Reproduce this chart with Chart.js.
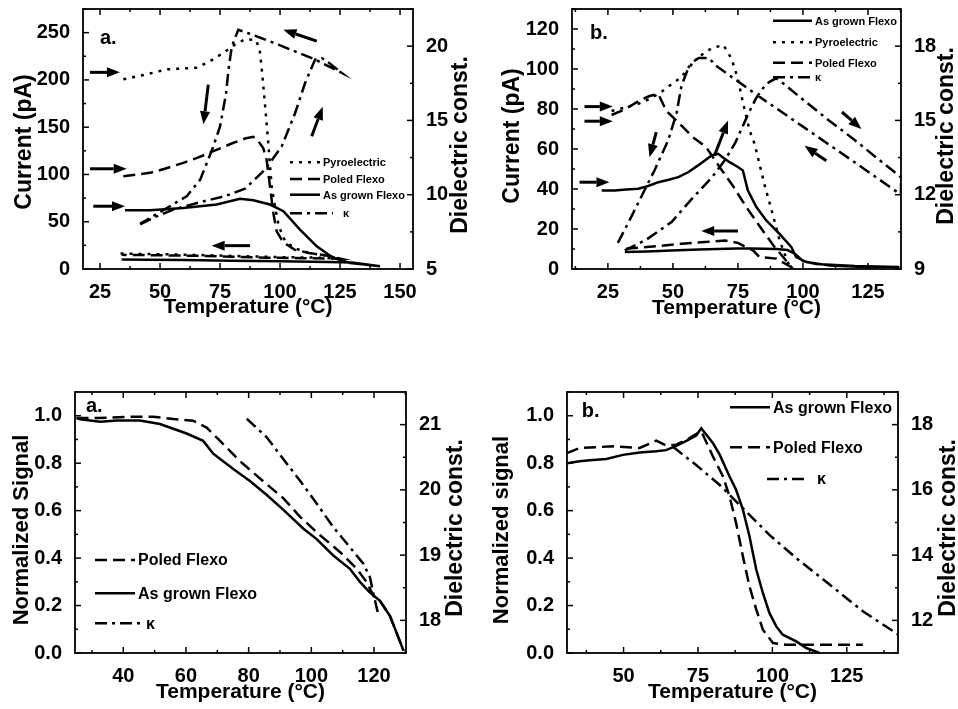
<!DOCTYPE html>
<html lang="en">
<head>
<meta charset="UTF-8">
<title>Flexo / pyro currents and dielectric constant</title>
<script src="https://cdn.jsdelivr.net/npm/chart.js"></script>
<style>
  body { margin: 0; background: #fff; }
  #wrap { position: relative; width: 958px; height: 709px; }
  canvas { position: absolute; }
</style>
</head>
<body>
<div id="wrap">
  <canvas id="pa" width="480" height="330" style="left:0;top:0"></canvas>
  <canvas id="pb" width="478" height="330" style="left:480px;top:0"></canvas>
  <canvas id="pc" width="480" height="379" style="left:0;top:330px"></canvas>
  <canvas id="pd" width="478" height="379" style="left:480px;top:330px"></canvas>
</div>
<script>
// ---- panel a (top left): currents in pA, kappa on right axis ----
const aXTicks = [25, 50, 75, 100, 125, 150];
const aCurTicks = [0, 50, 100, 150, 200, 250];
const aKapTicks = [5, 10, 15, 20];

const aPyroT = [34.7, 44.4, 52.8, 65.3, 70.8, 76, 81, 85.4, 90, 91.5, 92.4, 93.8, 95.1, 96.5, 97.9, 99.5, 102, 106, 112, 120, 125, 115, 100, 85, 70, 55, 40, 33];
const aPyroI = [200.6, 205.9, 211.2, 212.9, 219.7, 228, 237, 243, 242, 232, 211, 172, 133, 87.5, 66, 45, 30, 22, 17, 14, 11, 12, 12.5, 13.5, 14.5, 15.5, 16, 16.5];

const aPoledT = [34.7, 45.8, 52, 59.7, 66, 72.2, 80.6, 85.4, 88.9, 91, 93, 94.4, 95.8, 97.2, 98.6, 100.7, 102.8, 106, 112, 120, 125, 110, 95, 80, 65, 50, 34];
const aPoledI = [98.2, 101.7, 106, 112.3, 118, 124.6, 133.5, 138, 139.8, 135, 128, 115.8, 87.6, 59.3, 39.8, 31, 25.8, 20.5, 17, 14, 11, 11.5, 12, 13, 14, 14.5, 15];

const aGrownT = [35.4, 45.8, 59.7, 73.6, 83.3, 88.9, 95.8, 101.4, 108.3, 115.3, 122.2, 129.2, 136.1, 141.7, 130, 120, 100, 80, 60, 45, 34];
const aGrownI = [62.1, 62.1, 64.6, 68.2, 74.2, 72.7, 68.2, 61.1, 41.7, 24, 11.7, 6.4, 4.6, 2.8, 7, 7.5, 8.2, 8.8, 9.4, 9.8, 10];

const aKapT = [41.7, 48, 55.6, 66.7, 77, 85.4, 93.8, 100.7, 106.3, 110.4, 114.6, 117.4, 121, 125.7, 114.6, 99.3, 86.8, 82.6, 79.9, 78.5, 77.5, 75, 72.2, 69.4, 66.7, 61.1, 52.8, 44.4, 41.7];
const aKapV = [8.0, 8.5, 9.0, 9.5, 9.9, 10.4, 11.7, 13.25, 15.5, 17.5, 19.1, 19.2, 18.8, 18.2, 19.1, 20.1, 20.87, 21.1, 19.97, 18.4, 16.8, 14.6, 13.25, 12.1, 11.0, 9.9, 9.1, 8.3, 8.05];

// arrows: [T0, I0, T1, I1]
const aArrows = [
  [20.8, 208, 33.3, 208],
  [20.8, 106, 36.1, 106],
  [22.2, 66.4, 35.4, 66.4],
  [70.1, 195, 68.1, 153],
  [113.2, 140.5, 117.8, 171.6],
  [115.3, 241, 101.4, 253],
  [87.5, 24.7, 71.5, 24.7]
];

// ---- panel b (top right) ----
const bXTicks = [25, 50, 75, 100, 125];
const bCurTicks = [0, 20, 40, 60, 80, 100, 120];
const bKapTicks = [9, 12, 15, 18];

const bGrownT = [22.6, 27.7, 32, 36.7, 40.5, 44.4, 48, 52.1, 56, 59.7, 62, 64.9, 67.4, 69.5, 71.8, 75, 76.9, 78.8, 82.1, 85.9, 91, 95.5, 97.4, 101.3, 110.3, 123.1, 137, 120, 105, 100, 97, 94, 90, 80, 74.5, 60, 49.5, 40, 31.5];
const bGrownI = [39.3, 39.3, 39.8, 40.1, 41.5, 43.4, 44.5, 45.9, 48.5, 51.8, 54, 56.8, 57.6, 55.5, 53.4, 51, 49.3, 39.3, 31, 24.3, 17.6, 11, 6, 3.5, 1.8, 1, 1, 1.5, 2.5, 4, 7.5, 9.5, 10, 10.2, 10.2, 9.7, 9.3, 8.8, 8.5];

const bPyroT = [26.4, 31, 36.7, 41, 45, 48.8, 53.3, 56.5, 59.1, 62, 64.9, 69.4, 72.6, 75, 76.9, 79.5, 81.4, 85.3, 88.5, 91, 94.9];
const bPyroI = [79, 80.5, 82.6, 85, 88, 91.7, 95.9, 101.7, 105, 108, 110.4, 112, 105, 95, 83.4, 69.2, 62.6, 41.8, 26.8, 14.3, 1];

const bPoledT = [26.4, 31, 37.2, 41, 44.4, 47.4, 52.6, 57.7, 62.8, 68, 73.1, 78.2, 83.3, 88.5, 93, 95.5, 89.7, 83.3, 80.8, 75, 70, 62.3, 53.3, 45, 32.8, 30];
const bPoledI = [77, 79.5, 84.2, 86.5, 87.5, 79.2, 72.6, 65.9, 60.9, 50.9, 41.5, 31, 21.5, 12, 5, 1, 5.2, 6, 9.3, 13, 14.3, 13.5, 12.6, 11.5, 10.2, 9.5];

const bKapT = [31.5, 40, 49.5, 57, 65, 70, 74, 77, 79.5, 82, 84.6, 87, 89.7, 93, 98.7, 110, 120, 130, 137.7, 137.7, 120, 100, 82, 72, 66, 64, 60, 58, 55.5, 53.3, 51.4, 48.2, 43, 38, 33, 28.3];
const bKapV = [9.75, 10.2, 10.9, 11.8, 12.7, 13.4, 14.1, 14.8, 15.38, 15.9, 16.3, 16.55, 16.7, 16.45, 15.95, 15.0, 14.2, 13.35, 12.7, 12.0, 13.3, 14.75, 16.05, 16.8, 17.25, 17.52, 17.52, 17.4, 17.0, 16.4, 15.3, 14.2, 13.0, 11.95, 10.9, 9.95];

const bArrows = [
  [16, 81.2, 26.9, 81.2],
  [16, 73.9, 26.9, 73.9],
  [14.1, 43.4, 25.6, 43.4],
  [43.6, 68.4, 41, 55.9],
  [66, 56.8, 71.2, 74.2],
  [115, 78.5, 122.5, 70],
  [109, 54.1, 100.6, 61.6],
  [75, 19, 60.9, 19]
];

// ---- panel c (bottom left): normalized signal ----
const cXTicks = [40, 60, 80, 100, 120];
const cSigTicks = [0, 0.2, 0.4, 0.6, 0.8, 1.0];
const cKapTicks = [18, 19, 20, 21];

const cGrownT = [25.1, 26.2, 32.6, 38, 45.3, 51.7, 60.2, 65.5, 68.7, 75.1, 80.4, 85.7, 91.1, 97.4, 101.7, 107, 112.3, 115.5, 118.7, 121.9, 125.1, 127.2, 129.4];
const cGrownS = [0.99, 0.985, 0.975, 0.98, 0.98, 0.965, 0.925, 0.894, 0.84, 0.775, 0.725, 0.667, 0.603, 0.525, 0.48, 0.411, 0.355, 0.3, 0.255, 0.22, 0.156, 0.085, 0.01];

const cPoledT = [25.1, 32, 43.2, 49.6, 56, 62.3, 66.6, 70.9, 77.2, 84.7, 91.1, 96.4, 102.8, 109.1, 114.5, 117.7, 119.8, 121.9, 125.1, 127.2, 129.4];
const cPoledS = [0.99, 0.99, 0.996, 0.996, 0.986, 0.979, 0.95, 0.894, 0.809, 0.723, 0.652, 0.574, 0.496, 0.426, 0.355, 0.298, 0.241, 0.22, 0.156, 0.085, 0.01];

const cKapT = [79.4, 85.7, 91.1, 96.4, 101.7, 107, 112.3, 116.6, 118.7, 119.8, 121.4];
const cKapV = [21.09, 20.81, 20.47, 20.14, 19.79, 19.43, 19.12, 18.87, 18.66, 18.41, 18.08];

// ---- panel d (bottom right) ----
const dXTicks = [50, 75, 100, 125];
const dSigTicks = [0, 0.2, 0.4, 0.6, 0.8, 1.0];
const dKapTicks = [12, 14, 16, 18];

const dGrownT = [31, 35.2, 38.6, 44.2, 49.8, 55.4, 61, 64.3, 67.7, 71.1, 74.4, 76.1, 80, 82.3, 85.6, 87.8, 90.1, 92.3, 94.6, 96.8, 99, 101.3, 103.5, 108, 111.4, 115.8];
const dGrownS = [0.80, 0.808, 0.812, 0.818, 0.835, 0.845, 0.85, 0.855, 0.873, 0.894, 0.917, 0.947, 0.885, 0.836, 0.744, 0.688, 0.604, 0.492, 0.351, 0.253, 0.169, 0.112, 0.077, 0.049, 0.021, 0];

const dPoledT = [31, 35.2, 46.4, 55.4, 61, 64.3, 67.7, 72, 76.1, 80, 83.4, 85.6, 87.8, 90.1, 92.3, 94.6, 96.8, 100.2, 104.6, 130.4];
const dPoledS = [0.843, 0.864, 0.871, 0.864, 0.895, 0.875, 0.878, 0.905, 0.935, 0.829, 0.744, 0.66, 0.548, 0.407, 0.281, 0.183, 0.098, 0.042, 0.035, 0.035];

const dKapT = [66.6, 74.4, 82.3, 90.1, 99, 108, 119.2, 130.4, 142.2];
const dKapV = [17.32, 16.76, 16.15, 15.44, 14.62, 13.91, 13.1, 12.28, 11.57];

// ---------------------------------------------------------------
const FONT = 'Liberation Sans, Arial, sans-serif';
const DASH = { solid: [], dash: [12, 6], dot: [3, 6], dashdot: [12, 5, 3, 5] };

function series(label, xs, ys, dash, axis) {
  return {
    label,
    data: xs.map((x, i) => ({ x, y: ys[i] })),
    yAxisID: axis || 'y',
    borderColor: '#000',
    borderWidth: 2.5,
    borderDash: dash,
    pointRadius: 0,
    fill: false,
    tension: 0
  };
}

function range(lo, hi, step) {
  const out = [];
  for (let v = Math.ceil(lo / step - 1e-9) * step; v <= hi + 1e-9; v += step) out.push(v);
  return out;
}

// frame, inward ticks, y titles, legend, arrows, panel letter
const extras = {
  id: 'extras',
  afterDatasetsDraw(chart, args, o) {
    const ctx = chart.ctx;
    const { left, right, top, bottom } = chart.chartArea;
    const sx = chart.scales.x, sy = chart.scales.y, sy1 = chart.scales.y1;
    ctx.save();
    ctx.strokeStyle = '#000';
    ctx.fillStyle = '#000';
    ctx.setLineDash([]);
    ctx.lineWidth = 1.8;
    ctx.strokeRect(left, top, right - left, bottom - top);

    ctx.lineWidth = 1.5;
    const seg = (x0, y0, x1, y1) => { ctx.beginPath(); ctx.moveTo(x0, y0); ctx.lineTo(x1, y1); ctx.stroke(); };
    const marks = (scale, step) => {
      const major = scale.ticks.map(t => t.value);
      const minor = range(scale.min, scale.max, step).filter(v => !major.some(m => Math.abs(m - v) < 1e-6));
      return [major.map(v => [v, 6]), minor.map(v => [v, 3])].flat();
    };
    marks(sx, o.minor[0]).forEach(([v, len]) => {
      const p = sx.getPixelForValue(v);
      if (p < left || p > right) return;
      seg(p, bottom, p, bottom - len);
      seg(p, top, p, top + len);
    });
    marks(sy, o.minor[1]).forEach(([v, len]) => {
      const p = sy.getPixelForValue(v);
      if (p < top || p > bottom) return;
      seg(left, p, left + len, p);
    });
    marks(sy1, o.minor[2]).forEach(([v, len]) => {
      const p = sy1.getPixelForValue(v);
      if (p < top || p > bottom) return;
      seg(right, p, right - len, p);
    });

    // vertical axis titles, both reading bottom to top
    ctx.textAlign = 'center';
    ctx.textBaseline = 'middle';
    o.titles.forEach(([text, cx, cy, size]) => {
      ctx.save();
      ctx.font = 'bold ' + size + 'px ' + FONT;
      ctx.translate(cx, cy);
      ctx.rotate(-Math.PI / 2);
      ctx.fillText(text, 0, 0);
      ctx.restore();
    });

    // arrows (data units of x / left y)
    (o.arrows || []).forEach(([t0, v0, t1, v1]) => {
      const x0 = sx.getPixelForValue(t0), y0 = sy.getPixelForValue(v0);
      const x1 = sx.getPixelForValue(t1), y1 = sy.getPixelForValue(v1);
      const ang = Math.atan2(y1 - y0, x1 - x0);
      const head = 13, wid = 5;
      const bx = x1 - head * Math.cos(ang), by = y1 - head * Math.sin(ang);
      ctx.lineWidth = 3;
      seg(x0, y0, bx, by);
      ctx.beginPath();
      ctx.moveTo(x1, y1);
      ctx.lineTo(bx + wid * Math.sin(ang), by - wid * Math.cos(ang));
      ctx.lineTo(bx - wid * Math.sin(ang), by + wid * Math.cos(ang));
      ctx.closePath();
      ctx.fill();
    });

    // legend
    ctx.font = 'bold ' + o.legendSize + 'px ' + FONT;
    ctx.textAlign = 'left';
    o.legend.forEach(r => {
      const ds = chart.data.datasets[r.ds];
      const y = top + r.y;
      ctx.lineWidth = ds.borderWidth;
      ctx.setLineDash(ds.borderDash);
      seg(left + r.x0, y, left + r.x1, y);
      ctx.setLineDash([]);
      ctx.fillText(ds.label, left + r.tx, y + 1);
    });

    // panel letter
    ctx.font = 'bold 20px ' + FONT;
    ctx.fillText(o.tag[0], left + o.tag[1], top + o.tag[2]);
    ctx.restore();
  }
};

const tickFont = { family: FONT, size: 20, weight: 'bold' };
const titleFont = { family: FONT, size: 21, weight: 'bold', lineHeight: 1 };

// fixed box sizes; label overflow padding switched off so the plot box stays put
function fixSize(s, w, h) {
  if (w !== undefined) s.width = w;
  if (h !== undefined) s.height = h;
  s.paddingTop = 0; s.paddingBottom = 0; s.paddingLeft = 0; s.paddingRight = 0;
}

function axis(min, max, ticks, digits, extra) {
  return Object.assign({
    type: 'linear',
    min, max,
    grid: { display: false },
    border: { display: false },
    afterBuildTicks: s => { s.ticks = ticks.map(v => ({ value: v })); },
    ticks: {
      color: '#000', font: tickFont, autoSkip: false, maxRotation: 0, padding: 5,
      callback: v => Number(v).toFixed(digits)
    }
  }, extra);
}

function panel(id, p) {
  return new Chart(document.getElementById(id), {
    type: 'line',
    data: { datasets: p.datasets },
    options: {
      responsive: false,
      animation: false,
      events: [],
      layout: { padding: { top: p.box.top, left: 0, right: 0, bottom: 0 } },
      plugins: {
        legend: { display: false },
        tooltip: { enabled: false },
        extras: p.extras
      },
      scales: {
        x: axis(p.x[0], p.x[1], p.x[2], 0, {
          position: 'bottom',
          afterFit: s => fixSize(s, undefined, p.box.xh),
          ticks: { color: '#000', font: tickFont, autoSkip: false, maxRotation: 0, padding: 3, callback: v => String(v) },
          title: { display: true, text: 'Temperature (°C)', color: '#000', font: titleFont, padding: { top: 0, bottom: p.box.xt } }
        }),
        y: axis(p.y[0], p.y[1], p.y[2], p.y[3], {
          position: 'left',
          afterFit: s => fixSize(s, p.box.yl)
        }),
        y1: axis(p.y1[0], p.y1[1], p.y1[2], 0, {
          position: 'right',
          afterFit: s => fixSize(s, p.box.yr)
        })
      }
    },
    plugins: [extras]
  });
}

Chart.defaults.font.family = FONT;
Chart.defaults.color = '#000';

panel('pa', {
  box: { top: 9, xh: 61, yl: 83, yr: 67, xt: 12.5 },
  x: [17.9, 155.4, aXTicks],
  y: [0, 275, aCurTicks, 0],
  y1: [5, 22.5, aKapTicks],
  datasets: [
    series('Pyroelectric', aPyroT, aPyroI, DASH.dot),
    series('Poled Flexo', aPoledT, aPoledI, DASH.dash),
    series('As grown Flexo', aGrownT, aGrownI, DASH.solid),
    series('κ', aKapT, aKapV, DASH.dashdot, 'y1')
  ],
  extras: {
    minor: [12.5, 25, 2.5],
    titles: [['Current (pA)', 25, 142, 23], ['Dielectric const.', 461, 145, 23]],
    arrows: aArrows,
    legendSize: 11,
    legend: [
      { ds: 0, y: 153.3, x0: 207, x1: 237, tx: 240 },
      { ds: 1, y: 170, x0: 207, x1: 237, tx: 240 },
      { ds: 2, y: 185.7, x0: 207, x1: 237, tx: 240 },
      { ds: 3, y: 204.3, x0: 207, x1: 250, tx: 260 }
    ],
    tag: ['a.', 17, 29.5]
  }
});

panel('pb', {
  box: { top: 9, xh: 61, yl: 92, yr: 57, xt: 11.5 },
  x: [11.2, 137.7, bXTicks],
  y: [0, 130, bCurTicks, 0],
  y1: [9, 19.5, bKapTicks],
  datasets: [
    series('As grown Flexo', bGrownT, bGrownI, DASH.solid),
    series('Pyroelectric', bPyroT, bPyroI, DASH.dot),
    series('Poled Flexo', bPoledT, bPoledI, DASH.dash),
    series('κ', bKapT, bKapV, DASH.dashdot, 'y1')
  ],
  extras: {
    minor: [12.5, 10, 1.5],
    titles: [['Current (pA)', 33, 136, 23], ['Dielectric const.', 467, 136, 23]],
    arrows: bArrows,
    legendSize: 11,
    legend: [
      { ds: 0, y: 11.7, x0: 201, x1: 240, tx: 243 },
      { ds: 1, y: 33.3, x0: 201, x1: 240, tx: 243 },
      { ds: 2, y: 53.7, x0: 201, x1: 240, tx: 243 },
      { ds: 3, y: 68.3, x0: 201, x1: 240, tx: 243 }
    ],
    tag: ['b.', 18, 24]
  }
});

panel('pc', {
  box: { top: 62, xh: 56, yl: 75, yr: 74, xt: 6 },
  x: [24.6, 130.2, cXTicks],
  y: [0, 1.1, cSigTicks, 1],
  y1: [17.5, 21.5, cKapTicks],
  datasets: [
    series('Poled Flexo', cPoledT, cPoledS, DASH.dash),
    series('As grown Flexo', cGrownT, cGrownS, DASH.solid),
    series('κ', cKapT, cKapV, DASH.dashdot, 'y1')
  ],
  extras: {
    minor: [10, 0.1, 0.5],
    titles: [['Normalized Signal', 22, 200, 22], ['Dielectric const.', 456, 198, 23]],
    legendSize: 16,
    legend: [
      { ds: 0, y: 168, x0: 20, x1: 60, tx: 63 },
      { ds: 1, y: 201.3, x0: 20, x1: 60, tx: 63 },
      { ds: 2, y: 231.3, x0: 20, x1: 68, tx: 71 }
    ],
    tag: ['a.', 11, 14.5]
  }
});

panel('pd', {
  box: { top: 62, xh: 56, yl: 87, yr: 60, xt: 6 },
  x: [31, 142.2, dXTicks],
  y: [0, 1.1, dSigTicks, 1],
  y1: [11, 19, dKapTicks],
  datasets: [
    series('As grown Flexo', dGrownT, dGrownS, DASH.solid),
    series('Poled Flexo', dPoledT, dPoledS, DASH.dash),
    series('κ', dKapT, dKapV, DASH.dashdot, 'y1')
  ],
  extras: {
    minor: [12.5, 0.1, 1],
    titles: [['Normalized signal', 22, 200, 22], ['Dielectric const.', 469, 198, 23]],
    legendSize: 16,
    legend: [
      { ds: 0, y: 15.3, x0: 163, x1: 203, tx: 206 },
      { ds: 1, y: 55.3, x0: 163, x1: 203, tx: 206 },
      { ds: 2, y: 87, x0: 200, x1: 241, tx: 250 }
    ],
    tag: ['b.', 14.7, 19.7]
  }
});
</script>
</body>
</html>
